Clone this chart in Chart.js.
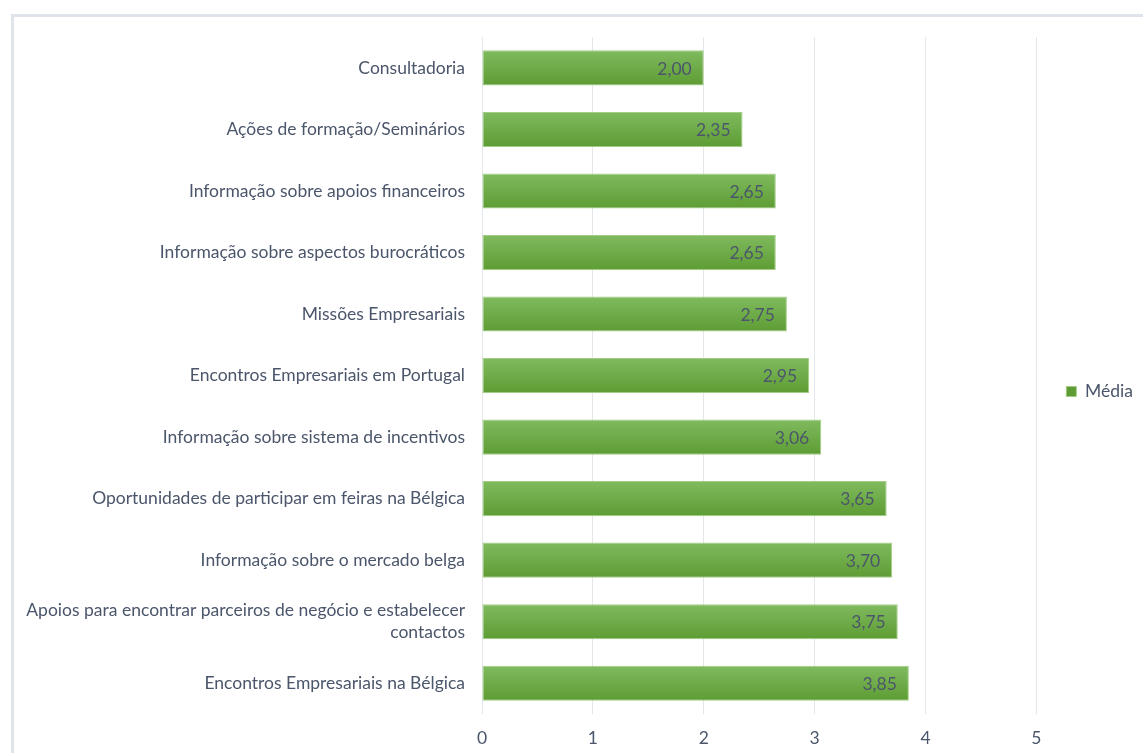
<!DOCTYPE html>
<html>
<head>
<meta charset="utf-8">
<script src="https://cdn.jsdelivr.net/npm/chart.js@4/dist/chart.umd.min.js"></script>
<style>
  html, body { margin: 0; padding: 0; background: #fff; overflow: hidden; }
  #frame {
    position: absolute; left: 11px; top: 14px;
    width: 1140px; height: 750px;
    border-left: 3px solid #dfe3ea; border-top: 3px solid #dfe3ea;
  }
  #wrap { position: absolute; left: 0; top: 0; width: 1129px; height: 736px; }
</style>
</head>
<body>
<div id="frame"><div id="wrap"><canvas id="chartCanvas"></canvas></div></div>
<script>
const categories = [
  "Consultadoria",
  "Ações de formação/Seminários",
  "Informação sobre apoios financeiros",
  "Informação sobre aspectos burocráticos",
  "Missões Empresariais",
  "Encontros Empresariais em Portugal",
  "Informação sobre sistema de incentivos",
  "Oportunidades de participar em feiras na Bélgica",
  "Informação sobre o mercado belga",
  ["Apoios para encontrar parceiros de negócio e estabelecer", "contactos"],
  "Encontros Empresariais na Bélgica",
];
const mediaValues = [2.00, 2.35, 2.65, 2.65, 2.75, 2.95, 3.06, 3.65, 3.70, 3.75, 3.85];
const xTicks = [0, 1, 2, 3, 4, 5];
const seriesLabel = "Média";

const textColor = "#4b566b";
const fontFamily = "Lato, 'Open Sans', sans-serif";
const fontSize = 17.5;

// per-bar vertical gradient, like the office style fill
function barFill(ctx) {
  const chart = ctx.chart;
  const yScale = chart.scales.y;
  if (ctx.type !== "data" || !yScale) return "#6aa84f";
  const c = yScale.getPixelForValue(ctx.dataIndex);
  if (!Number.isFinite(c)) return "#6aa84f";
  const g = chart.ctx.createLinearGradient(0, c - 18, 0, c + 18);
  g.addColorStop(0, "#80bb5f");
  g.addColorStop(1, "#5d9c33");
  return g;
}

const valueLabels = {
  id: "valueLabels",
  afterDatasetsDraw(chart) {
    const ctx = chart.ctx;
    const meta = chart.getDatasetMeta(0);
    ctx.save();
    ctx.font = fontSize + "px " + fontFamily;
    ctx.fillStyle = textColor;
    ctx.textAlign = "right";
    ctx.textBaseline = "middle";
    meta.data.forEach((bar, i) => {
      const txt = mediaValues[i].toFixed(2).replace(".", ",");
      ctx.fillText(txt, bar.x - 12, bar.y + 1);
    });
    ctx.restore();
  }
};

new Chart(document.getElementById("chartCanvas"), {
  type: "bar",
  data: {
    labels: categories,
    datasets: [{
      label: seriesLabel,
      data: mediaValues,
      backgroundColor: barFill,
      borderColor: "#a3cd86",
      borderWidth: 1,
      borderSkipped: false,
      barPercentage: 0.57,
      categoryPercentage: 1.0,
    }],
  },
  options: {
    indexAxis: "y",
    responsive: true,
    maintainAspectRatio: false,
    animation: false,
    layout: { padding: { top: 13, left: 8, right: 0, bottom: 0 } },
    plugins: {
      tooltip: { enabled: false },
      legend: {
        position: "right",
        labels: {
          boxWidth: 10,
          boxHeight: 10,
          color: textColor,
          font: { family: fontFamily, size: fontSize },
          padding: 30,
        },
      },
    },
    scales: {
      x: {
        min: 0,
        max: 5,
        afterBuildTicks(scale) {
          scale.ticks = xTicks.map(v => ({ value: v }));
        },
        grid: { color: "#e3e6ea", drawTicks: false },
        border: { display: false },
        ticks: {
          color: textColor,
          font: { family: fontFamily, size: fontSize },
          padding: 14,
        },
        afterFit(scale) { scale.height = 39; },
      },
      y: {
        grid: { display: false },
        border: { display: false },
        ticks: {
          color: textColor,
          font: { family: fontFamily, size: fontSize, lineHeight: 1.27 },
          padding: 9,
        },
        afterFit(scale) { scale.width = 460; },
      },
    },
  },
  plugins: [valueLabels],
});
</script>
</body>
</html>
